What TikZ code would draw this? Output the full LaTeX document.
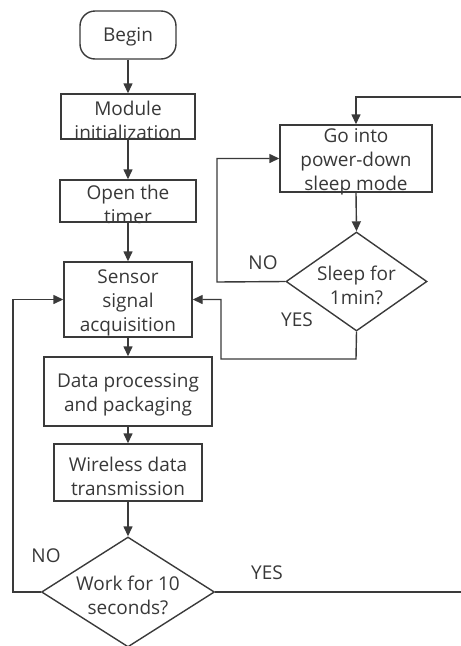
\documentclass[tikz,border=0pt]{standalone}
\usepackage{fontspec}
\setmainfont{Open Sans}
\usetikzlibrary{arrows.meta,shapes.geometric}
\definecolor{ln}{HTML}{3A3A3A}
\definecolor{tx}{HTML}{383838}
\tikzset{
  box/.style={draw=ln,line width=1.4pt,rectangle,inner sep=0pt},
  begbox/.style={box,rounded corners=15pt},
  dia/.style={draw=ln,line width=1.4pt,diamond,inner sep=0pt},
  txt/.style={text=tx,font=\fontsize{19}{24}\selectfont,align=center,inner sep=0pt},
  lbl/.style={text=tx,font=\fontsize{19}{24}\selectfont,inner sep=0pt},
  conn/.style={draw=ln,line width=1.4pt,-{Triangle[length=10pt,width=9pt]}},
  plain/.style={draw=ln,line width=1.4pt}
}
\begin{document}
\begin{tikzpicture}[x=1pt,y=-1pt]
\useasboundingbox (0,0) rectangle (461,646);
\clip (0,0) rectangle (461,646);
% boxes
\node[begbox,minimum width=96pt,minimum height=48pt] (begin) at (128,35) {};
\node[box,minimum width=134pt,minimum height=45pt] (mod) at (128,116.5) {};
\node[box,minimum width=136pt,minimum height=42pt] (open) at (128,201) {};
\node[box,minimum width=128pt,minimum height=75pt] (sens) at (128,299.5) {};
\node[box,minimum width=168pt,minimum height=69pt] (data) at (128,391.5) {};
\node[box,minimum width=148pt,minimum height=57pt] (wire) at (128,472.5) {};
\node[dia,minimum width=173pt,minimum height=110pt] (work) at (128,592) {};
\node[box,minimum width=152pt,minimum height=67pt] (sleep) at (356,158.5) {};
\node[dia,minimum width=141pt,minimum height=99pt] (chk) at (356.5,281.5) {};
% texts
\node[txt] (tbegin) at (128,37) {Begin};
\node[txt] (tmod) at (128,120) {Module\\initialization};
\node[txt] (topen) at (128,204.5) {Open the\\timer};
\node[txt] (tsens) at (128,303) {Sensor\\signal\\acquisition};
\node[txt] (tdata) at (128,395) {Data processing\\and packaging};
\node[txt] (twire) at (128,476) {Wireless data\\transmission};
\node[txt] (twork) at (128,595.5) {Work for 10\\seconds?};
\node[txt] (tsleep) at (356,162) {Go into\\power-down\\sleep mode};
\node[txt] (tchk) at (356.5,285.5) {Sleep for\\1min?};
% labels
\node[lbl] (no1) at (263,263) {NO};
\node[lbl] (yes1) at (297,320) {YES};
\node[lbl] (no2) at (46,556) {NO};
\node[lbl] (yes2) at (267,573) {YES};
% coordinates
\coordinate (wl) at (13,592);
\coordinate (wr) at (470,592);
\coordinate (wt) at (470,97);
\coordinate (st) at (356,97);
\coordinate (cl) at (217,282);
\coordinate (cb) at (356,359);
\coordinate (cbl) at (221,359);
% connectors
\draw[conn] (begin.south) -- (mod.north);
\draw[conn] (mod.south) -- (open.north);
\draw[conn] (open.south) -- (sens.north);
\draw[conn] (sens.south) -- (data.north);
\draw[conn] (data.south) -- (wire.north);
\draw[conn] (wire.south) -- (work.north);
\draw[conn] (work.west) -- (wl) |- (sens.west);
\draw[conn] (work.east) -- (wr) -- (wt) -- (st) -- (sleep.north);
\draw[conn] (sleep.south) -- (chk.north);
\draw[conn] (chk.west) -- (cl) |- (sleep.west);
\draw[conn] (chk.south) -- (cb) -- (cbl) |- (sens.east);
\end{tikzpicture}
\end{document}
